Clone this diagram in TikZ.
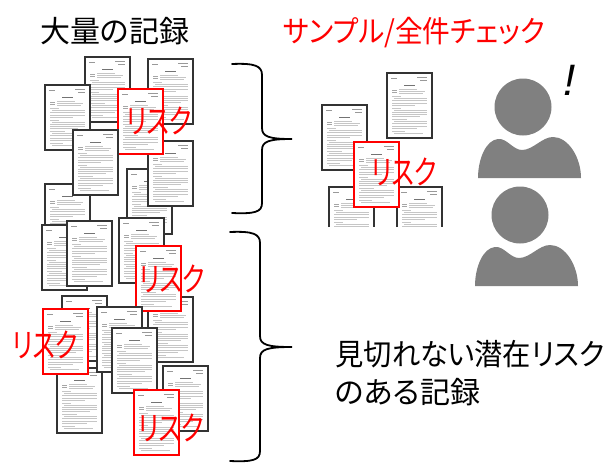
\documentclass[tikz,border=0pt]{standalone}
\usepackage{graphicx}
\usepackage{fontspec}
\newfontfamily\jp{Noto Sans CJK JP}[RawFeature=+palt]
\newfontfamily\bangfont{Liberation Sans}
\definecolor{person}{HTML}{808080}
\definecolor{edge}{HTML}{333333}

% tiny lines standing for the printed text of a record
\newcommand\paperlines{%
  \draw[gray!80, line width=0.6] (4,5)--(10,5) (30,4)--(40,4) (33,7)--(40,7);
  \draw[gray!90!black, line width=1] (17,12)--(28,12);
  \draw[gray!70, line width=0.8] (5,17)--(10,17) (5,19.5)--(10,19.5);
  \foreach \ly/\la/\lb in {16.5/12/30, 18.7/12/38, 20.9/12/36, 23.5/5/14, 25.7/7/40,
      27.9/5/40, 30.1/5/40, 32.3/5/28, 35/5/14, 37.2/7/40, 39.4/5/40, 41.6/5/40,
      43.8/5/33, 46.5/5/20, 48.7/7/40, 50.9/5/40, 53.1/5/40, 55.3/5/30, 58/5/18, 60.2/7/36}
    \draw[textline] (\la,\ly)--(\lb,\ly);
}

\tikzset{
  textline/.style={draw=gray!45, line width=0.85},
  paper/.pic={
    \fill[white] (0,0) rectangle (45,65);
    \paperlines
    \draw[edge, line width=1.9] (0,0) rectangle (45,65);
  },
  riskpaper/.pic={
    \fill[white] (0,0) rectangle (45,65);
    \paperlines
    \draw[red, line width=1.9] (0,0) rectangle (45,65);
  },
  % a record whose lower part is cut off
  cutpaper/.pic={
    \fill[white] (0,0) rectangle (45,40);
    \begin{scope}
      \clip (-2,-2) rectangle (47,40);
      \paperlines
    \end{scope}
    \draw[edge, line width=1.9] (0,40) -- (0,0) -- (45,0) -- (45,40);
  },
  person/.pic={
    \fill[person] (0,0) circle[radius=28.5];
    \fill[person] (-45,71) .. controls (-45,52) and (-37,33) .. (-25,32)
      .. controls (-16,31) and (-10,43) .. (-1,43)
      .. controls (10,43) and (19,30) .. (30,30)
      .. controls (45,30) and (58,50) .. (58,71) -- cycle;
  },
  risk/.style={text=red, inner sep=0, font=\jp\fontsize{33}{33}\selectfont},
  heading/.style={anchor=base west, inner sep=0, font=\jp\fontsize{30}{38}\selectfont},
  brace/.style={draw=black, line width=1.8, line cap=round},
}
\newcommand\risktext{\resizebox{66pt}{\height}{リスク}}

\begin{document}
\begin{tikzpicture}[x=1pt, y=-1pt]
\useasboundingbox (0,0) rectangle (609,464);

% headings
\node[heading] (title) at (40,42) {大量の記録};
\node[heading, text=red] (check) at (283,42) {\resizebox{262pt}{\height}{サンプル/全件チェック}};

% the pile of records, back to front
\pic at (85,57) {paper};
\pic at (148,59) {paper};
\pic at (45,85) {paper};
\pic at (127,169) {paper};
\pic at (148,141) {paper};
\pic at (118,89) {riskpaper};
\pic at (45,184) {paper};
\pic at (73,130) {paper};
\pic at (42,225) {paper};
\pic at (67,221) {paper};
\pic at (119,218) {paper};
\pic at (62,296) {paper};
\pic at (148,297) {paper};
\pic at (136,246) {riskpaper};
\pic at (57,368) {paper};
\pic at (43,309) {riskpaper};
\pic at (97,307) {paper};
\pic at (112,328) {paper};
\pic at (163,366) {paper};
\pic at (134,390) {riskpaper};

\node[risk] (risk1) at (159,121) {\risktext};
\node[risk] (risk2) at (172,279) {\risktext};
\node[risk] (risk3) at (45,345) {\risktext};
\node[risk] (risk4) at (171,428) {\risktext};

% the sampled records
\pic at (387,73) {paper};
\pic at (322,105) {paper};
\pic at (329,187) {cutpaper};
\pic at (397,187) {cutpaper};
\pic at (354,142) {riskpaper};
\node[risk] (risk5) at (404,172) {\risktext};

% braces
\draw[brace] (232,64) .. controls (255,63) and (262,66) .. (262,75) -- (262,128)
  .. controls (262,137) and (270,139) .. (292,139)
  .. controls (270,139) and (262,141) .. (262,150) -- (262,203)
  .. controls (262,212) and (255,214) .. (232,213);
\draw[brace] (230,232) .. controls (253,231) and (260,234) .. (260,243) -- (260,336)
  .. controls (260,345) and (268,347) .. (292,347)
  .. controls (268,347) and (260,349) .. (260,358) -- (260,451)
  .. controls (260,460) and (253,462) .. (230,461);

% reviewers
\pic at (523,107) {person};
\pic at (520,215) {person};
\node[inner sep=0, font=\bangfont\itshape\fontsize{44}{44}\selectfont] (bang) at (570,80) {!};

\node[heading] (note1) at (335,365) {\resizebox{270pt}{\height}{見切れない潜在リスク}};
\node[heading] (note2) at (335,403) {のある記録};
\end{tikzpicture}
\end{document}
